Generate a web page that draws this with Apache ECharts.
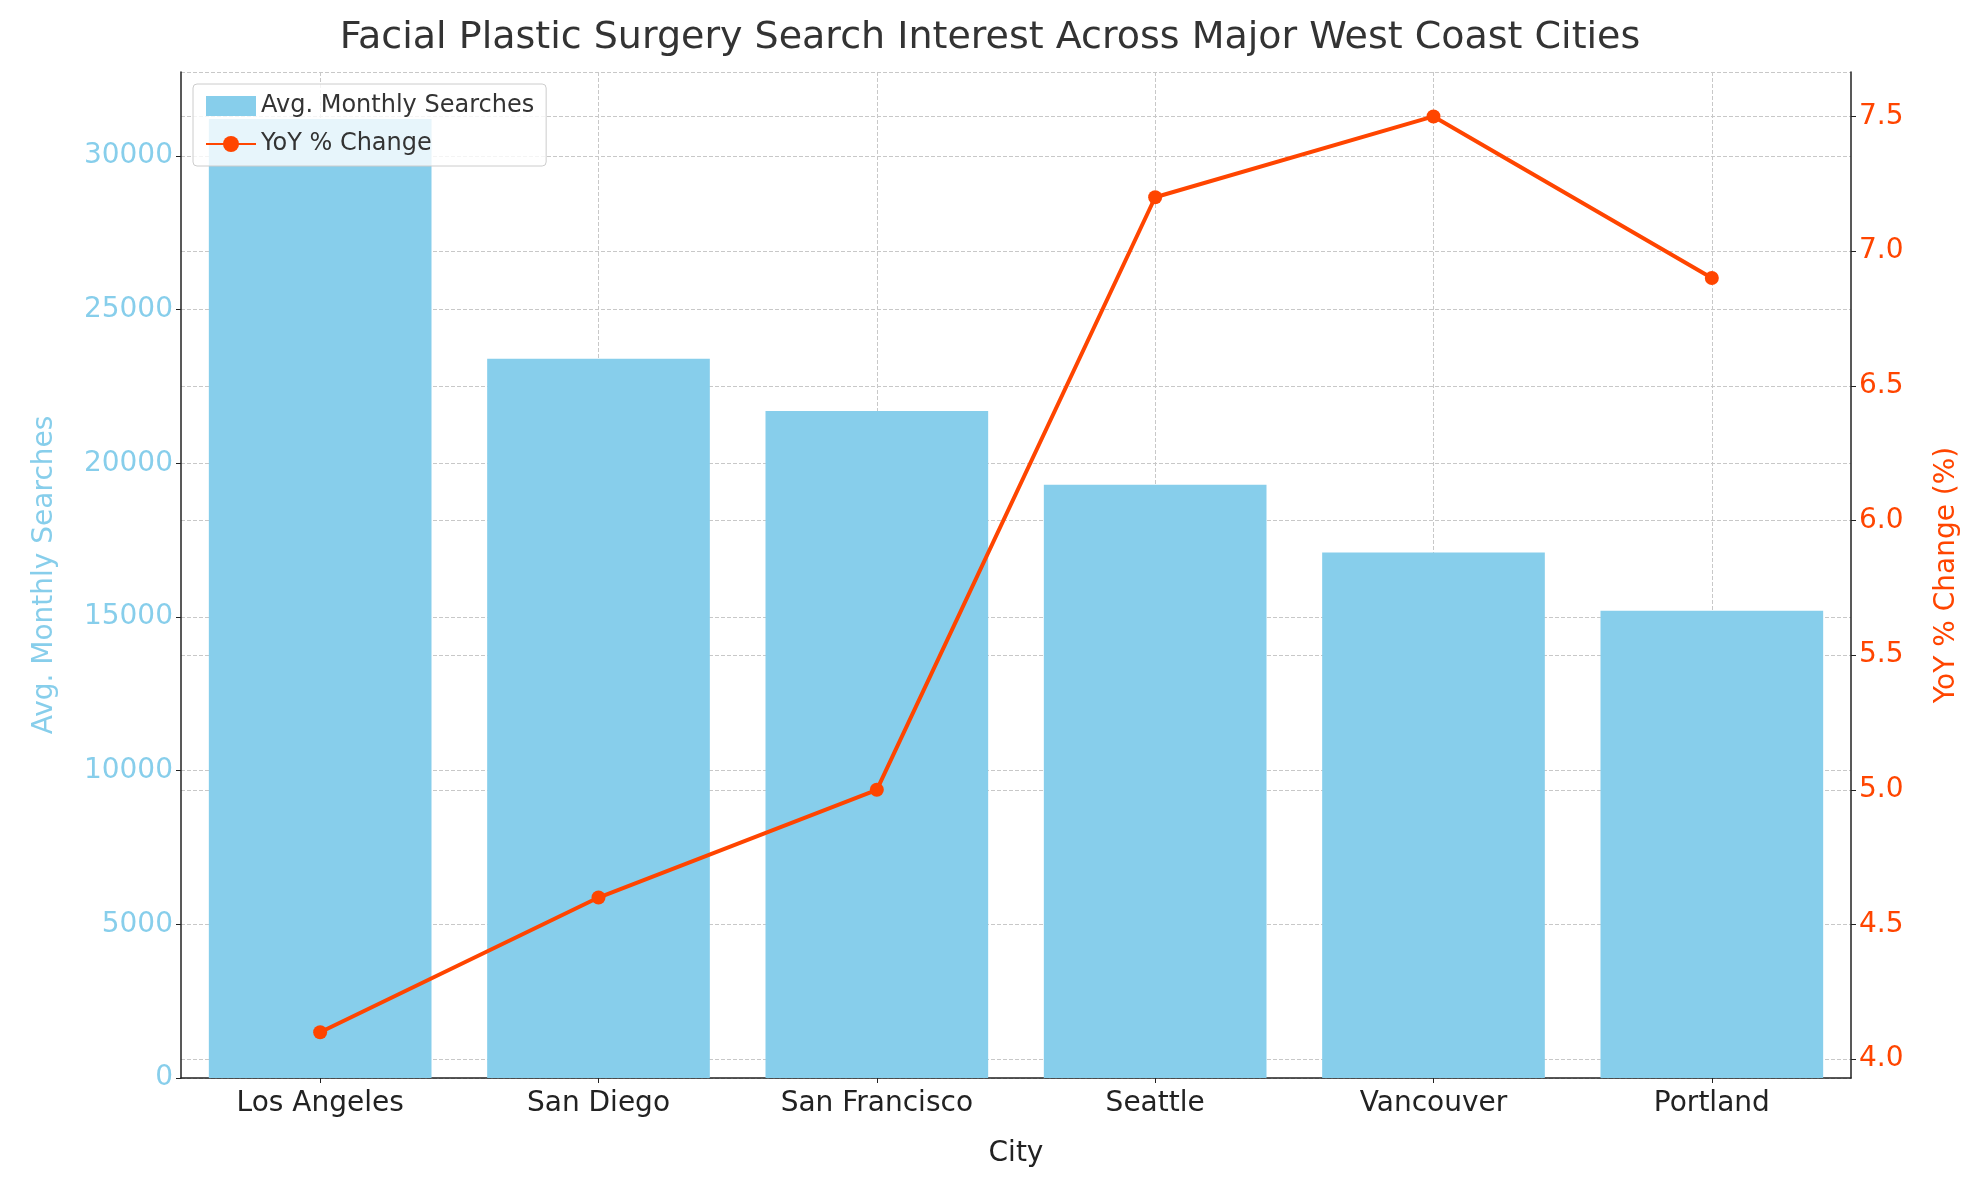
<!DOCTYPE html>
<html>
<head>
<meta charset="utf-8">
<script src="https://cdn.jsdelivr.net/npm/echarts@6/dist/echarts.min.js"></script>
<style>html,body{margin:0;padding:0;background:#fff}#main{width:1980px;height:1180px}</style>
</head>
<body>
<div id="main"></div>
<script>
var cities = ['Los Angeles', 'San Diego', 'San Francisco', 'Seattle', 'Vancouver', 'Portland'];
var searches = [31200, 23400, 21700, 19300, 17100, 15200];
var yoyChange = [4.1, 4.6, 5.0, 7.2, 7.5, 6.9];
var rightTicks = [4.0, 4.5, 5.0, 5.5, 6.0, 6.5, 7.0, 7.5];

var chart = echarts.init(document.getElementById('main'));
var font = 'DejaVu Sans';
var gridDash = { type: 'dashed', color: '#c8c8c8', width: 1 };

chart.setOption({
    textStyle: { fontFamily: font },
    title: {
        text: 'Facial Plastic Surgery Search Interest Across Major West Coast Cities',
        left: 'center', top: 14,
        textStyle: { fontSize: 38, fontWeight: 'normal', color: '#333', fontFamily: font }
    },
    legend: {
        left: 193, top: 84, orient: 'vertical', itemGap: 14, itemWidth: 50, itemHeight: 20,
        borderColor: '#ccc', borderWidth: 1, borderRadius: 4, padding: [10, 12],
        backgroundColor: 'rgba(255,255,255,0.8)',
        textStyle: { fontSize: 24, color: '#333' },
        data: [
            { name: 'Avg. Monthly Searches', icon: 'rect' },
            { name: 'YoY % Change' }
        ]
    },
    grid: { left: 181, right: 129, top: 72, bottom: 102 },
    xAxis: {
        type: 'category', data: cities,
        name: 'City', nameLocation: 'middle', nameGap: 62,
        nameTextStyle: { fontSize: 28, color: '#222' },
        axisLine: { lineStyle: { color: '#222', width: 1.5 } },
        axisTick: { show: true, alignWithLabel: true, lineStyle: { color: '#222' } },
        axisLabel: { fontSize: 28, color: '#222', margin: 12 },
        splitLine: { show: false }
    },
    yAxis: [{
        type: 'value', min: 0, max: 32730, interval: 5000,
        name: 'Avg. Monthly Searches', nameLocation: 'middle', nameGap: 122,
        nameTextStyle: { fontSize: 28, color: '#87CEEB' },
        axisLine: { show: true, lineStyle: { color: '#222', width: 1.5 } },
        axisTick: { show: true, lineStyle: { color: '#222' } },
        axisLabel: { fontSize: 28, color: '#87CEEB', showMaxLabel: false, formatter: function (v) { return String(v); } },
        splitLine: { show: true, lineStyle: gridDash }
    }, {
        type: 'value', min: 3.93, max: 7.665,
        name: 'YoY % Change (%)', nameLocation: 'middle', nameGap: 82, nameRotate: 90,
        nameTextStyle: { fontSize: 28, color: '#FF4500' },
        axisLine: { show: true, lineStyle: { color: '#222', width: 1.5 } },
        axisTick: { show: true, customValues: rightTicks, lineStyle: { color: '#222' } },
        axisLabel: {
            fontSize: 28, color: '#FF4500', customValues: rightTicks,
            formatter: function (v) { return v.toFixed(1); }
        },
        splitLine: { show: false }
    }],
    series: [{
        name: 'Avg. Monthly Searches', type: 'bar', data: searches,
        barWidth: '80%', itemStyle: { color: '#87CEEB' }, z: 1,
        markLine: {
            silent: true, symbol: 'none', label: { show: false },
            lineStyle: gridDash, z: 0,
            data: cities.map(function (c) { return { xAxis: c }; })
        }
    }, {
        name: 'YoY % Change', type: 'line', yAxisIndex: 1, data: yoyChange,
        symbol: 'circle', symbolSize: 14,
        lineStyle: { color: '#FF4500', width: 4 }, itemStyle: { color: '#FF4500' },
        z: 3,
        markLine: {
            silent: true, symbol: 'none', label: { show: false },
            lineStyle: gridDash, z: 0,
            data: rightTicks.map(function (v) { return { yAxis: v }; })
        }
    }]
});
</script>
</body>
</html>
